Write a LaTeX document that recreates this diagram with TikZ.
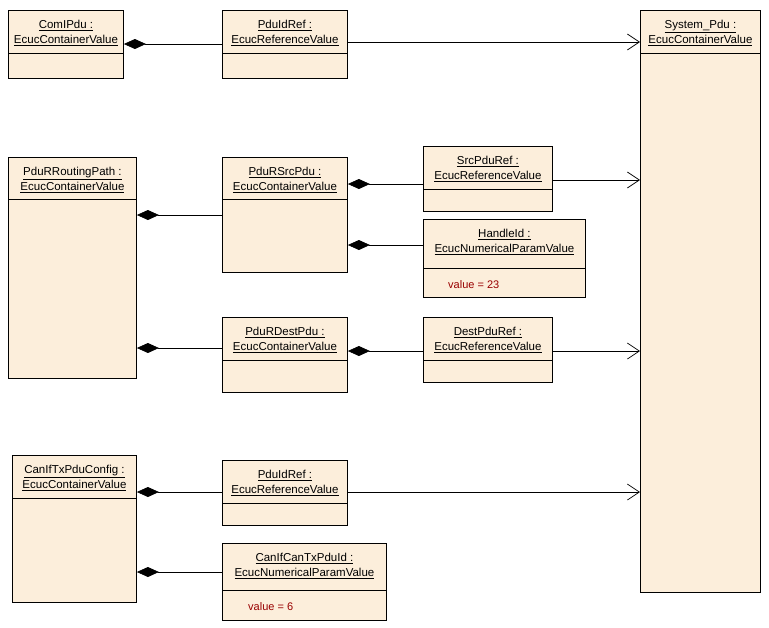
\documentclass[tikz,border=0pt]{standalone}
\usepackage{fontspec}
\setmainfont{Liberation Sans}
\usetikzlibrary{arrows.meta,calc}
\definecolor{cream}{HTML}{FCEEDB}
\definecolor{valred}{HTML}{990000}
\tikzset{
 box/.style={draw=black,fill=cream,line width=0.9pt,anchor=north west,inner sep=0pt},
 ttl/.style={anchor=north,align=center,inner sep=0pt,font=\fontsize{11.5}{15}\selectfont},
 sep/.style={line width=0.6pt},
 comp/.style={line width=0.7pt,{Diamond[length=22pt,width=10pt]}-},
 ref/.style={line width=0.7pt,-{Straight Barb[length=12pt,width=16pt,line width=0.7pt]}},
 val/.style={anchor=west,inner sep=0pt,text=valred,font=\fontsize{11}{13}\selectfont}
}
\newcommand{\umlbox}[8]{% name x y w h sepy line1 line2
 \node[box,minimum width=#4pt,minimum height=#5pt] (#1) at (#2,#3) {};
 \node[ttl] (#1t) at ($(#1.north)+(0,10)$) {\underline{#7}\\\underline{#8}};
 \draw[sep] (#2,#6) -- (#2+#4,#6);
}
\begin{document}
\begin{tikzpicture}[x=1pt,y=-1pt]
\useasboundingbox (0,0) rectangle (769,627);
\umlbox{a}{8}{10}{115}{68}{53}{ComIPdu :}{EcucContainerValue}
\umlbox{b}{222}{10}{125}{68}{53}{PduIdRef :}{EcucReferenceValue}
\umlbox{sys}{640}{10}{120}{582}{53}{System\_Pdu :}{EcucContainerValue}
\umlbox{rp}{8}{157}{128}{221}{199}{PduRRoutingPath :}{EcucContainerValue}
\umlbox{src}{222}{157}{125}{115}{199}{PduRSrcPdu :}{EcucContainerValue}
\umlbox{sref}{423}{146}{129}{65}{189}{SrcPduRef :}{EcucReferenceValue}
\umlbox{hid}{423}{219}{162}{78}{268}{HandleId :}{EcucNumericalParamValue}
\node[val] (hv) at (448,285) {value = 23};
\umlbox{dst}{222}{317}{125}{75}{360}{PduRDestPdu :}{EcucContainerValue}
\umlbox{dref}{423}{317}{129}{65}{360}{DestPduRef :}{EcucReferenceValue}
\umlbox{can}{12}{455}{124}{147}{498}{CanIfTxPduConfig :}{EcucContainerValue}
\umlbox{b2}{222}{460}{125}{65}{503}{PduIdRef :}{EcucReferenceValue}
\umlbox{cid}{222}{543}{164}{77}{590}{CanIfCanTxPduId :}{EcucNumericalParamValue}
\node[val] (cv) at (248,607) {value = 6};
% connectors
\draw[comp] (a.east |- 0,44) -- (b.west |- 0,44);
\draw[ref] (b.east |- 0,42) -- (sys.west |- 0,42);
\draw[comp] (rp.east |- 0,215) -- (src.west |- 0,215);
\draw[comp] (src.east |- 0,184) -- (sref.west |- 0,184);
\draw[ref] (sref.east |- 0,180) -- (sys.west |- 0,180);
\draw[comp] (src.east |- 0,245) -- (hid.west |- 0,245);
\draw[comp] (rp.east |- 0,348) -- (dst.west |- 0,348);
\draw[comp] (dst.east |- 0,351) -- (dref.west |- 0,351);
\draw[ref] (dref.east |- 0,351) -- (sys.west |- 0,351);
\draw[comp] (can.east |- 0,492) -- (b2.west |- 0,492);
\draw[ref] (b2.east |- 0,492) -- (sys.west |- 0,492);
\draw[comp] (can.east |- 0,572) -- (cid.west |- 0,572);
\end{tikzpicture}
\end{document}
